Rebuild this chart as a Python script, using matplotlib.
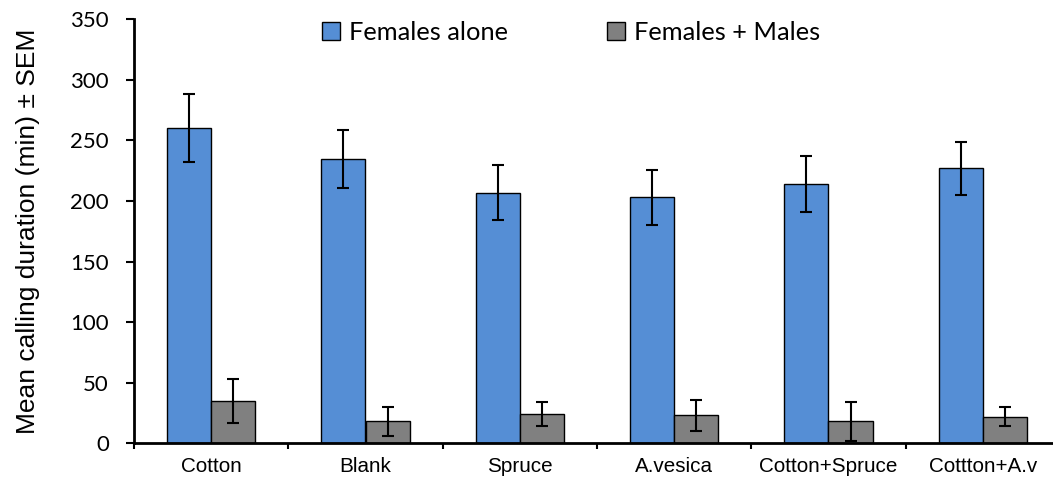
import matplotlib.pyplot as plt
import numpy as np

# mean calling duration (min) and SEM per odour treatment
treatments = ['Cotton', 'Blank', 'Spruce', 'A.vesica', 'Cotton+Spruce', 'Cottton+A.v']
femalesAlone = [260, 235, 207, 203, 214, 227]
femalesAloneSem = [28, 24, 23, 23, 23, 22]
femalesMales = [35, 18, 24, 23, 18, 22]
femalesMalesSem = [18, 12, 10, 13, 16, 8]

def main():
    fig = plt.figure(figsize=(10.53, 4.79), dpi=100)
    ax = fig.add_axes([134/1053, 35.7/479, 926/1053, 424/479])

    x = np.arange(len(treatments))
    width = 0.287
    errStyle = dict(ecolor='black', elinewidth=1.5, capsize=4.3, capthick=1.5)
    ax.bar(x - width/2, femalesAlone, width, yerr=femalesAloneSem, color='#558ED5',
           edgecolor='black', linewidth=1.0, label='Females alone', error_kw=errStyle, zorder=2)
    ax.bar(x + width/2, femalesMales, width, yerr=femalesMalesSem, color='#808080',
           edgecolor='black', linewidth=1.0, label='Females + Males', error_kw=errStyle, zorder=2)

    ax.set_xlim(-0.5, len(treatments) - 0.5)
    ax.set_ylim(0, 350)
    ax.set_yticks(range(0, 351, 50))
    ax.tick_params(axis='y', labelsize=16, length=6, width=1.5, pad=12,
                   labelfontfamily='Lato')

    # group labels centred, tick marks between groups
    ax.set_xticks(x)
    ax.set_xticklabels(treatments, fontsize=14.9, fontfamily='Liberation Sans')
    ax.tick_params(axis='x', which='major', length=0, pad=10)
    ax.set_xticks(np.arange(len(treatments) + 1) - 0.5, minor=True)
    ax.tick_params(axis='x', which='minor', length=4, width=1.5, direction='out')

    for side in ['top', 'right']:
        ax.spines[side].set_visible(False)
    for side in ['left', 'bottom']:
        ax.spines[side].set_linewidth(2)

    ax.set_ylabel('Mean calling duration (min) ± SEM', fontsize=19,
                  fontfamily='Liberation Sans', labelpad=22)

    ax.legend(loc='upper center', bbox_to_anchor=(0.472, 1.05), ncol=2,
              frameon=False, prop={'family': 'Lato', 'size': 18.3},
              handlelength=0.7, handleheight=0.7, handletextpad=0.35,
              columnspacing=3.9)

    plt.savefig('out.png')

main()
